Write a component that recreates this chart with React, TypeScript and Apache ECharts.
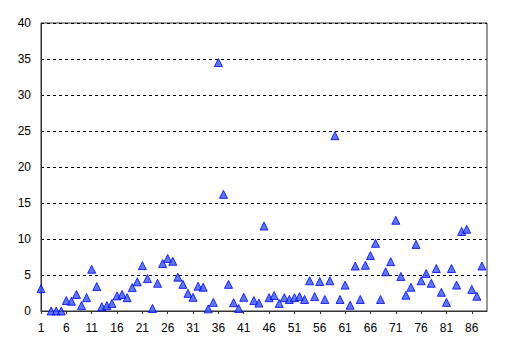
import React, { useEffect, useRef } from "react";
import * as echarts from "echarts";

const categories: string[] = Array.from({ length: 89 }, (_, i) => String(i + 1));

const values: (number | null)[] = [
  3.1, null, 0, 0, 0, 1.45, 1.35, 2.3, 0.75, 1.85,
  5.8, 3.4, 0.6, 0.75, 1.05, 2.1, 2.3, 1.85, 3.25, 4.05,
  6.3, 4.5, 0.35, 3.85, 6.6, 7.3, 6.9, 4.7, 3.7, 2.45,
  1.9, 3.45, 3.3, 0.3, 1.2, 34.5, 16.2, 3.7, 1.15, 0.35,
  1.9, null, 1.45, 1.1, 11.8, 1.85, 2.15, 1.05, 1.85, 1.6,
  1.85, 2.0, 1.6, 4.2, 2.0, 4.1, 1.6, 4.2, 24.35, 1.6,
  3.6, 0.8, 6.25, 1.6, 6.35, 7.7, 9.4, 1.6, 5.45, 6.85,
  12.6, 4.8, 2.2, 3.3, 9.25, 4.2, 5.2, 3.85, 5.9, 2.6,
  1.2, 5.9, 3.6, 11.05, 11.35, 3.0, 2.05, 6.25, null,
];

const yTicks = { min: 0, max: 40, interval: 5 };

export default function App() {
  const ref = useRef<HTMLDivElement>(null);
  useEffect(() => {
    if (!ref.current) return;
    const chart = echarts.init(ref.current, undefined, { renderer: "svg" });
    chart.setOption({
      animation: false,
      backgroundColor: "#ffffff",
      grid: {
        left: 41,
        right: 24,
        top: 23,
        bottom: 50,
        show: true,
        borderColor: "#333333",
        borderWidth: 1,
      },
      xAxis: {
        type: "category",
        data: categories,
        boundaryGap: false,
        axisLine: { lineStyle: { color: "#333333", width: 1 } },
        axisTick: { show: true, interval: 4, length: 3, lineStyle: { color: "#333333" } },
        axisLabel: {
          interval: 4,
          color: "#000000",
          fontFamily: "Liberation Sans, Arial, sans-serif",
          fontSize: 12,
          margin: 11,
        },
        splitLine: { show: false },
      },
      yAxis: {
        type: "value",
        min: yTicks.min,
        max: yTicks.max,
        interval: yTicks.interval,
        axisLine: { show: true, lineStyle: { color: "#333333", width: 1 } },
        axisTick: { show: false },
        axisLabel: {
          color: "#000000",
          fontFamily: "Liberation Sans, Arial, sans-serif",
          fontSize: 12,
          margin: 10,
        },
        splitLine: { show: true, lineStyle: { color: "#000000", type: [3, 3], width: 1 } },
      },
      series: [
        {
          type: "scatter",
          data: values,
          symbol: "triangle",
          symbolSize: [8, 8],
          itemStyle: { color: "#3355ff", borderColor: "#0000ff", borderWidth: 1 },
        },
      ],
    });
    return () => chart.dispose();
  }, []);
  return <div ref={ref} style={{ width: 511, height: 361, margin: -8 }} />;
}
